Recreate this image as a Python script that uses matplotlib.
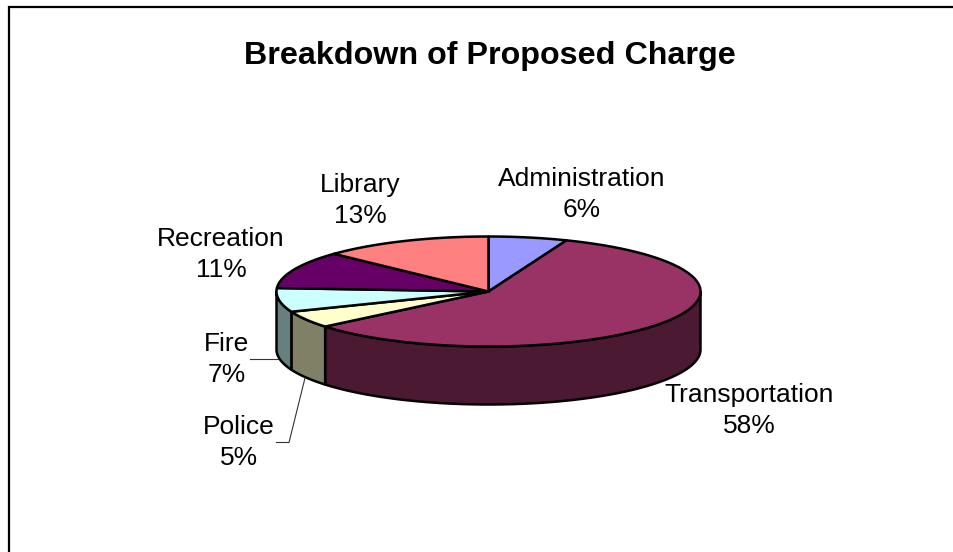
import numpy as np
import matplotlib
matplotlib.use("Agg")
import matplotlib.pyplot as plt
from matplotlib.patches import Polygon

plt.rcParams['font.family'] = ['Liberation Sans', 'DejaVu Sans']

# Shares run clockwise from twelve o'clock
categories = ["Administration", "Transportation", "Police", "Fire", "Recreation", "Library"]
shares = [6, 58, 5, 7, 11, 13]
top_colors = ["#9999FF", "#993366", "#FFFFCC", "#CCFFFF", "#660066", "#FF8080"]
side_colors = ["#4C4C80", "#4C1933", "#808066", "#668080", "#330033", "#804040"]
label_xy = [(582, 194.5), (749, 410.5), (239, 442.5), (227, 359.5), (221, 254.5), (360, 200.5)]

W, H = 954, 552
CX, CY, RX, RY, DEPTH = 488.5, 291.5, 212.0, 55.0, 58.0

fig = plt.figure(figsize=(W / 100, H / 100), dpi=100)
ax = fig.add_axes([0, 0, 1, 1])
ax.set_xlim(0, W)
ax.set_ylim(H, 0)
ax.axis("off")


def rim(a0, a1, dy=0.0):
    t = np.radians(np.linspace(a0, a1, max(int(abs(a1 - a0) * 2), 2)))
    return np.column_stack([CX + RX * np.sin(t), CY + dy - RY * np.cos(t)])


LW = 1.8
edges = np.cumsum([0] + shares) * 3.6

# Outer wall: only the front half of the rim (90 to 270 degrees) is visible
for i in range(len(shares)):
    a0, a1 = max(edges[i], 90), min(edges[i + 1], 270)
    if a1 <= a0:
        continue
    poly = np.vstack([rim(a0, a1), rim(a0, a1, DEPTH)[::-1]])
    ax.add_patch(Polygon(poly, closed=True, fc=side_colors[i], ec="black", lw=LW, joinstyle="round"))

# Top face
for i in range(len(shares)):
    poly = np.vstack([[[CX, CY]], rim(edges[i], edges[i + 1])])
    ax.add_patch(Polygon(poly, closed=True, fc=top_colors[i], ec="black", lw=LW, joinstyle="round"))

# Leader lines
ax.plot([250.5, 278], [359, 359], color="#333333", lw=0.8)
ax.plot([276.5, 289, 305], [442.5, 442.5, 378], color="#333333", lw=0.8)

# Frame: left and top edges only, the top one running off the right side
ax.plot([9, 9, W], [H, 7, 7], color="black", lw=1.6, solid_joinstyle="miter")

ax.text(490, 56, "Breakdown of Proposed Charge", ha="center", va="center",
        fontsize=23.2, fontweight="bold", color="black")

for name, share, (x, y) in zip(categories, shares, label_xy):
    ax.text(x, y, f"{name}\n{share}%", ha="center", va="center", fontsize=19,
            color="black", linespacing=1.4)

fig.savefig("out.png", dpi=100, facecolor="white")
